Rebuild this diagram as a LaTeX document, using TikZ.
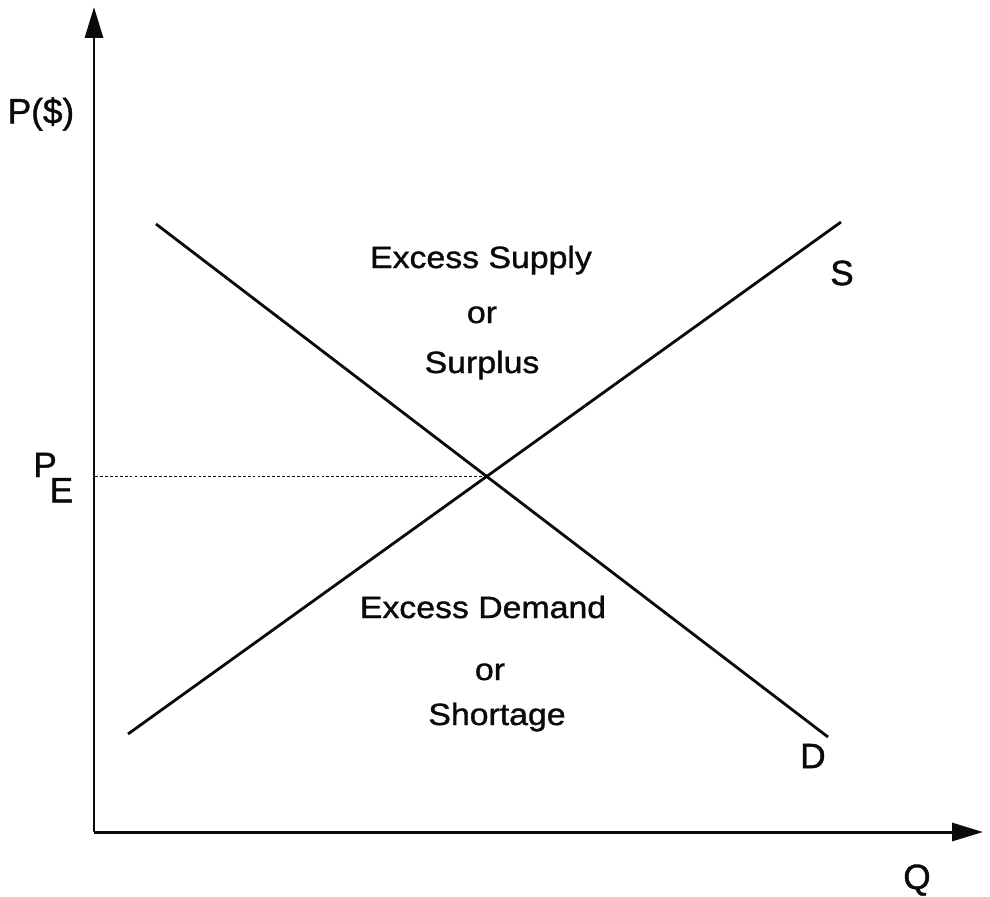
\documentclass[tikz,border=0pt]{standalone}
\usepackage{fontspec}
\setmainfont{Liberation Sans}[FakeBold=1.2]
\newfontfamily\widefont{Liberation Sans}[FakeStretch=1.1,FakeBold=1.2]
\usepackage{tikz}
\usetikzlibrary{arrows.meta,intersections}
\definecolor{ink}{RGB}{10, 10, 10}

\tikzset{
  axis/.style={ink,line width=1.7pt,-{Triangle[length=6.2mm,width=3.6mm]}},
  curve/.style={ink,line width=1.6pt},
  guide/.style={ink,line width=0.6pt,dash pattern=on 1.6pt off 1.2pt},
  lbl/.style={ink,font=\fontsize{20}{24}\selectfont,inner sep=0pt},
  region/.style={ink,font=\widefont\fontsize{17.5}{21}\selectfont,inner sep=0pt,anchor=base}
}

\begin{document}
\begin{tikzpicture}[x=0.02cm,y=-0.02cm]
\useasboundingbox (0,0) rectangle (990,896);
% axes
\coordinate (O) at (94,832);
\coordinate (ytop) at (94,7);
\coordinate (xend) at (983,832);
\draw[axis] (O) -- (ytop);
\draw[axis] (O) -- (xend);
% demand and supply
\coordinate (d1) at (156,224);
\coordinate (d2) at (828,737);
\coordinate (s1) at (128,734);
\coordinate (s2) at (841,222);
\draw[curve,name path=dline] (d1) -- (d2);
\draw[curve,name path=sline] (s1) -- (s2);
\path[name intersections={of=dline and sline,by=eq}];
\draw[guide] (eq) -- (eq -| O);
% labels
\node[lbl] (pdollar) at (41,114) {P(\$)};
\node[lbl,anchor=base west] (pe) at (33,477) {P\kern-0.2em\raisebox{-0.72em}{E}};
\node[lbl] (slbl) at (842,273) {S};
\node[lbl] (dlbl) at (813,756) {D};
\node[lbl,anchor=base] (qlbl) at (917,889) {Q};
% regions
\node[region] (surplus1) at (481,268) {Excess Supply};
\node[region] (surplus2) at (482,323) {or};
\node[region] (surplus3) at (482,373) {Surplus};
\node[region] (shortage1) at (483,618) {Excess Demand};
\node[region] (shortage2) at (490,680) {or};
\node[region] (shortage3) at (497,725) {Shortage};
\end{tikzpicture}
\end{document}
